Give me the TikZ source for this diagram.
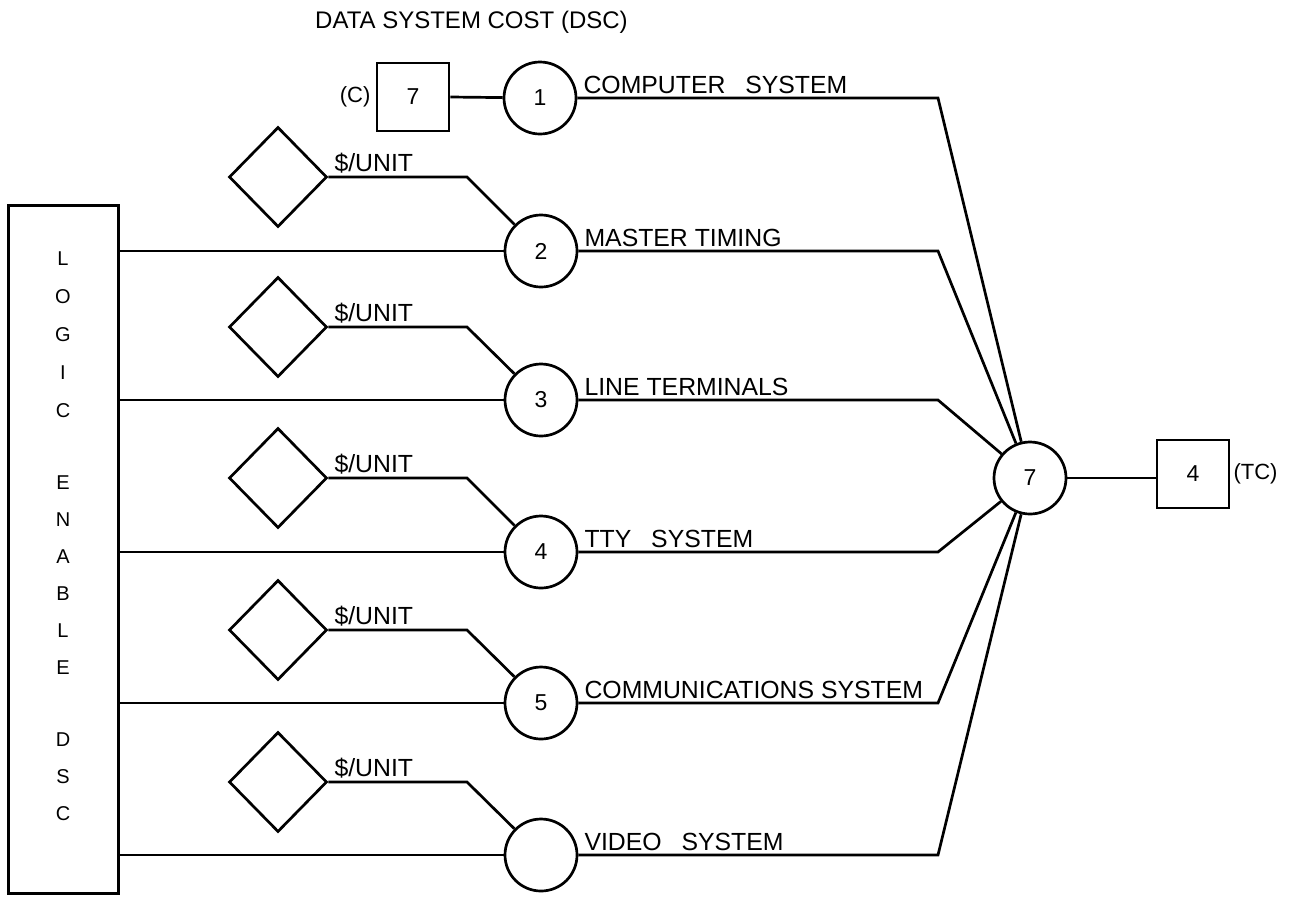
\documentclass[tikz,border=0pt]{standalone}
\usepackage{fontspec}
\setmainfont{Liberation Sans}
\usetikzlibrary{shapes.geometric}
\begin{document}
\begin{tikzpicture}[x=1pt,y=-1pt,
  wire/.style={line width=2.7pt},
  sumnode/.style={draw,circle,line width=2.7pt,minimum size=72pt,inner sep=0pt,font=\fontsize{23}{26}\selectfont},
  valbox/.style={draw,rectangle,line width=2.7pt,minimum width=72pt,minimum height=68pt,inner sep=0pt,font=\fontsize{23}{26}\selectfont},
  ratebox/.style={draw,diamond,line width=2.7pt,minimum width=98pt,minimum height=100pt,inner sep=0pt},
  lbl/.style={anchor=south west,inner sep=0pt,font=\fontsize{24.8}{28}\selectfont},
  small/.style={inner sep=0pt,font=\fontsize{22}{25}\selectfont},
  letter/.style={inner sep=0pt,font=\fontsize{20}{23}\selectfont}]
\useasboundingbox (0,0) rectangle (1290,898);

% title
\node[inner sep=0pt,anchor=west,font=\fontsize{24}{27}\selectfont] (title) at (315,22) {DATA SYSTEM COST (DSC)};

% logic enable box
\node[draw,rectangle,line width=3pt,minimum width=110pt,minimum height=688pt,inner sep=0pt] (logic) at (63,549) {};
\foreach \ch/\yy [count=\i] in {L/259,O/297,G/335,I/373,C/411,E/483,N/520,A/557,B/594,L/631,E/668,D/740,S/777,C/814}
  \node[letter] (lg\i) at (63,\yy) {\ch};

% top chain
\node[valbox] (bc) at (413,97) {7};
\node[small,anchor=east] (clab) at ([xshift=-5pt]bc.west) {(C)};
\node[sumnode] (n1) at (540,98) {1};
\draw[wire] (bc.east) -- (n1);

% circles
\node[sumnode] (n2) at (541,251) {2};
\node[sumnode] (n3) at (541,400) {3};
\node[sumnode] (n4) at (541,552) {4};
\node[sumnode] (n5) at (541,703) {5};
\node[sumnode] (n6) at (541,855) {};

% diamonds
\foreach \k/\yy in {2/177,3/327,4/478,5/630,6/782}{
  \node[ratebox] (d\k) at (278,\yy) {};
  \node[lbl] (u\k) at ([xshift=6pt,yshift=4pt]d\k.east) {\$/UNIT};
  \coordinate (k\k) at (467,\yy);
  \draw[wire] (d\k.east) -- (k\k) -- (n\k);
  \draw[wire] (logic.east |- n\k) -- (n\k);
}

% total node
\node[sumnode] (t7) at (1030,478) {7};
\node[valbox] (bt) at (1193,474) {4};
\node[small,anchor=west] (tclab) at ([xshift=3pt]bt.east) {(TC)};
\draw[wire] (t7) -- (t7 -| bt.west);

% labels and right side connectors
\foreach \k/\txt in {1/{COMPUTER\hspace{0.8em}SYSTEM},2/{MASTER TIMING},3/{LINE TERMINALS},4/{TTY\hspace{0.8em}SYSTEM},5/{COMMUNICATIONS SYSTEM},6/{VIDEO\hspace{0.8em}SYSTEM}}{
  \node[lbl] (s\k) at ([xshift=6pt,yshift=4pt]n\k.east) {\txt};
  \coordinate (r\k) at (938,0 |- n\k);
  \draw[wire] (n\k.east) -- (r\k) -- (t7);
}
\end{tikzpicture}
\end{document}
